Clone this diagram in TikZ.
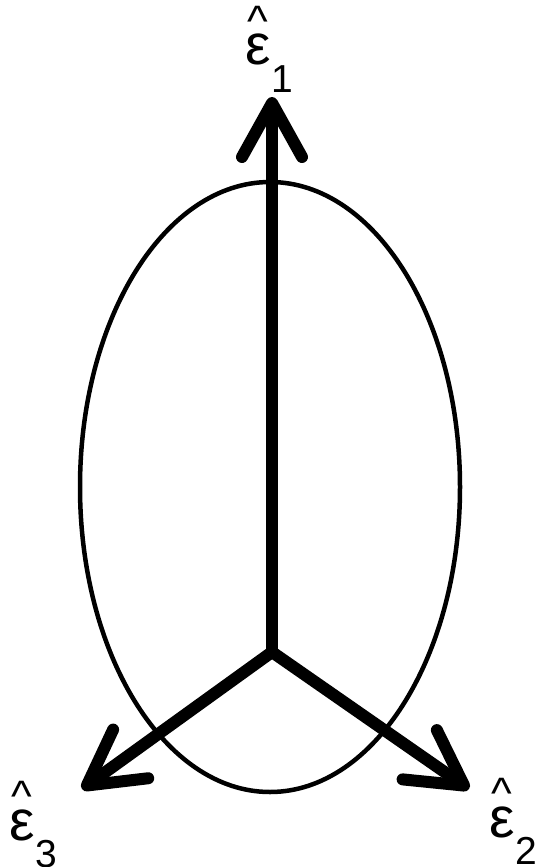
\documentclass[tikz,border=0pt]{standalone}
\usepackage{fontspec}
\setmainfont{Liberation Sans}
\usetikzlibrary{arrows.meta}

\newcommand{\ehat}[1]{%
  \fontsize{57}{57}\selectfont
  \sbox0{ε}%
  \rlap{\makebox[\wd0]{\raisebox{0.5em}{\fontsize{44}{44}\selectfont\textasciicircum}}}%
  \usebox0\hspace{1pt}\raisebox{-0.48em}{\fontsize{39}{39}\selectfont #1}}

\begin{document}
\begin{tikzpicture}[x=1pt,y=-1pt,
  evec/.style={line width=12pt, line cap=round, line join=round,
    -{Straight Barb[length=54pt, width=60pt, round]}}]
\useasboundingbox (0,0) rectangle (540,867);
\draw [line width=4.5pt] (270,487) ellipse [x radius=190, y radius=305];
\coordinate (o) at (272,652);
\coordinate (e1) at (272,97);
\coordinate (e2) at (469,789);
\coordinate (e3) at (82,789);
\draw [evec] (o) -- (e1);
\draw [evec] (o) -- (e2);
\draw [evec] (o) -- (e3);
\node [anchor=base west, inner sep=0pt] (l1) at (245,65) {\ehat{1}};
\node [anchor=base west, inner sep=0pt] (l2) at (489,837) {\ehat{2}};
\node [anchor=base west, inner sep=0pt] (l3) at (9,840) {\ehat{3}};
\end{tikzpicture}
\end{document}
